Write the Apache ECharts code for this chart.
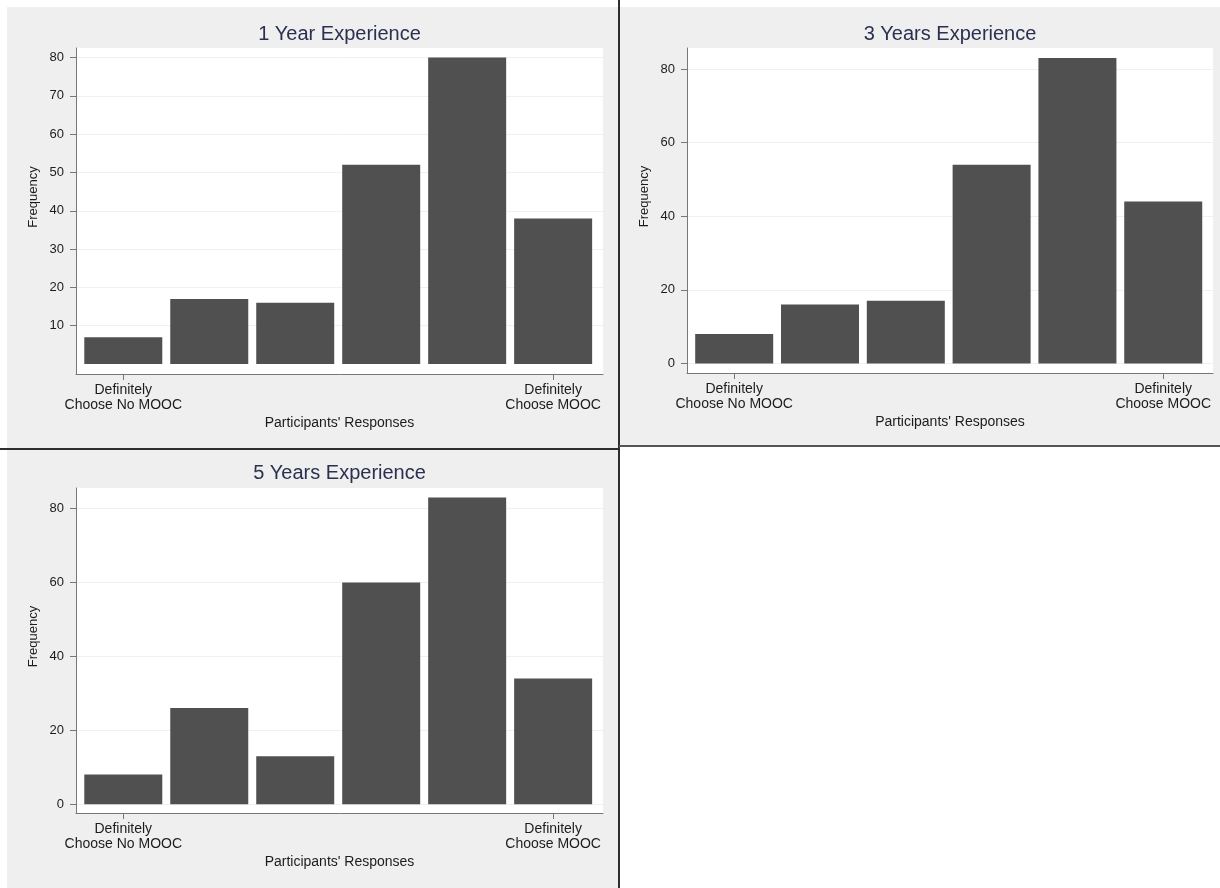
<!DOCTYPE html>
<html>
<head>
<meta charset="utf-8">
<script src="https://cdn.jsdelivr.net/npm/echarts@6/dist/echarts.min.js"></script>
<style>
  html, body { margin: 0; padding: 0; background: #ffffff; }
  #wrap { position: relative; width: 1220px; height: 888px; overflow: hidden; }
  .panel { position: absolute; background: #efefef; }
  .rule { position: absolute; background: #2e2e2e; }
  #chart { position: absolute; left: 0; top: 0; width: 1220px; height: 888px; }
</style>
</head>
<body>
<div id="wrap">
  <div class="panel" style="left:7px;top:7px;width:611px;height:441px"></div>
  <div class="panel" style="left:620px;top:7px;width:600px;height:438px"></div>
  <div class="panel" style="left:7px;top:450px;width:611px;height:438px"></div>
  <div class="rule" style="left:618px;top:0;width:2px;height:888px"></div>
  <div class="rule" style="left:0;top:448px;width:619px;height:2px"></div>
  <div class="rule" style="left:619px;top:445px;width:601px;height:2px;background:#555"></div>
  <div id="chart"></div>
</div>
<script>
// Response scale positions (1 = definitely no MOOC ... 6 = definitely MOOC)
const responsePositions = [1, 2, 3, 4, 5, 6];
const endLabels = { 1: 'Definitely\nChoose No MOOC', 6: 'Definitely\nChoose MOOC' };
const endTicks = [1, 6];

const panelTitles = ['1 Year Experience', '3 Years Experience', '5 Years Experience'];

// Frequencies per response, one array per experience level
const freq1Year = [7, 17, 16, 52, 80, 38];
const freq3Years = [8, 16, 17, 54, 83, 44];
const freq5Years = [8, 26, 13, 60, 83, 34];

// Frequency tick labels
const yTicks1Year = [10, 20, 30, 40, 50, 60, 70, 80];
const yTicks3Years = [0, 20, 40, 60, 80];
const yTicks5Years = [0, 20, 40, 60, 80];

const FONT = '"Liberation Sans", Arial, Helvetica, sans-serif';
const BAR = '#505050';
const AXIS = '#777777';
const INK = '#1c1c1c';

const layout = [
  { grid: { left: 76, top: 48, width: 527, height: 326 }, yMin: -2.6, yMax: 82.5, titleX: 339.5, titleY: 24 },
  { grid: { left: 687, top: 48, width: 526, height: 325 }, yMin: -2.6, yMax: 85.7, titleX: 950, titleY: 24 },
  { grid: { left: 76, top: 488, width: 527, height: 325 }, yMin: -2.4, yMax: 85.6, titleX: 339.5, titleY: 463 }
];
const panelData = [freq1Year, freq3Years, freq5Years];
const panelTicks = [yTicks1Year, yTicks3Years, yTicks5Years];

const option = {
  animation: false,
  textStyle: { fontFamily: FONT },
  title: [], grid: [], xAxis: [], yAxis: [], series: []
};

layout.forEach((p, i) => {
  option.title.push({
    text: panelTitles[i], padding: 0,
    left: p.titleX, top: p.titleY, textAlign: 'center',
    textStyle: { fontFamily: FONT, fontSize: 20, fontWeight: 'normal', color: '#2b3050' }
  });
  option.grid.push(Object.assign({ show: true, backgroundColor: '#ffffff', borderWidth: 0 }, p.grid));
  option.xAxis.push({
    type: 'value', gridIndex: i, min: 0.45, max: 6.58,
    name: "Participants' Responses", nameLocation: 'middle', nameGap: 42,
    nameTextStyle: { fontFamily: FONT, fontSize: 14, color: INK },
    axisLine: { show: true, onZero: false, lineStyle: { color: AXIS, width: 1 } },
    axisTick: { show: true, length: 6, customValues: endTicks, lineStyle: { color: AXIS } },
    axisLabel: {
      customValues: endTicks, margin: 9, fontSize: 14, lineHeight: 15, color: INK,
      formatter: v => endLabels[v] || ''
    },
    splitLine: { show: false }
  });
  option.yAxis.push({
    type: 'value', gridIndex: i, min: p.yMin, max: p.yMax,
    name: 'Frequency', nameLocation: 'middle', nameGap: 36, nameRotate: 90,
    nameTextStyle: { fontFamily: FONT, fontSize: 13, color: INK, padding: [0, 0, 0, 28] },
    axisLine: { show: true, onZero: false, lineStyle: { color: AXIS, width: 1 } },
    axisTick: { show: true, length: 6, customValues: panelTicks[i], lineStyle: { color: AXIS } },
    axisLabel: { customValues: panelTicks[i], margin: 12, fontSize: 13, color: INK },
    splitLine: { show: true, lineStyle: { color: '#eef1f4', width: 1 } }
  });
  option.series.push({
    type: 'bar', xAxisIndex: i, yAxisIndex: i, barWidth: 78,
    itemStyle: { color: BAR },
    data: responsePositions.map((x, k) => [x, panelData[i][k]])
  });
});

const chart = echarts.init(document.getElementById('chart'), null, { renderer: 'canvas' });
chart.setOption(option);
</script>
</body>
</html>
